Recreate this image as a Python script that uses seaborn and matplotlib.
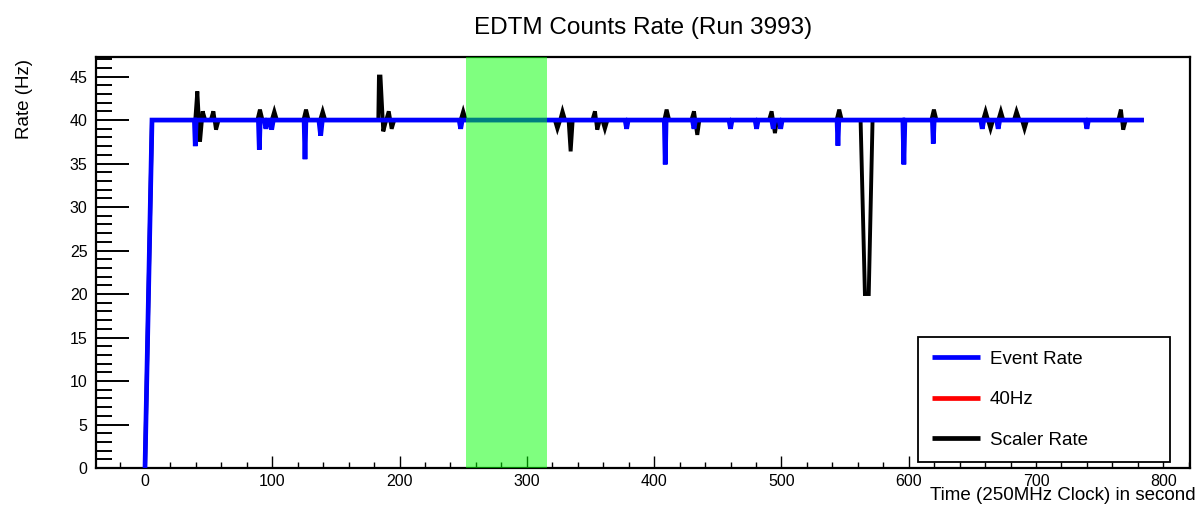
import numpy as np
import pandas as pd
import matplotlib
matplotlib.use("Agg")
import matplotlib.pyplot as plt
from matplotlib.ticker import MultipleLocator
from matplotlib.lines import Line2D
import seaborn as sns

# ---------------- data ----------------
scaler_x = [0, 5.5, 39.5, 41.1, 43.2, 45.3, 47.3, 51.7, 53.7, 55.8, 57.8,
            88.3, 90.3, 92.3, 99.6, 101.6, 103.6, 124.5, 126.5, 128.5,
            137.6, 139.6, 141.6, 183.3, 183.8, 185.0, 187.2, 189.5, 191.5, 193.8, 195.8,
            248, 250, 252, 322, 324, 326.2, 328, 330, 332.8, 334.4, 336,
            351.5, 353.5, 355.3, 357.3, 359.3, 361.3, 363.3,
            408, 409.8, 411.8, 429.3, 431.3, 433.9, 435.5,
            490.3, 492.3, 494.9, 496.5, 543.4, 545.4, 547.4,
            562.2, 565.6, 568.6, 571.6, 617.8, 619.8, 621.8,
            658.4, 660.4, 664.3, 666.3, 670.4, 672.4, 674.4,
            682.7, 684.7, 687.0, 689.0, 691.0, 693.0,
            764.7, 766.7, 768.5, 770.5, 784.8]
scaler_y = [0, 40, 40, 43.3, 37.5, 41.0, 40, 40, 41.0, 38.9, 40,
            40, 41.2, 40, 40, 41.0, 40, 40, 41.2, 40,
            40, 41.0, 40, 40, 45.0, 45.0, 38.7, 40, 41.0, 39.0, 40,
            40, 41.0, 40, 40, 39.0, 40, 41.0, 40, 40, 36.4, 40,
            40, 41.0, 38.9, 40, 40, 39.0, 40,
            40, 41.2, 40, 40, 41.0, 38.3, 40,
            40, 41.0, 38.5, 40, 40, 41.2, 40,
            40, 20.0, 20.0, 40, 40, 41.2, 40,
            40, 41.0, 39.0, 40, 40, 41.0, 40,
            40, 41.0, 40, 40, 39.0, 40,
            40, 41.2, 38.9, 40, 40]

event_x = [0, 5.5, 38.8, 39.5, 40.2, 89.1, 89.8, 90.5, 93.8, 95.0, 96.3,
           98.3, 99.5, 100.8, 125.0, 125.7, 126.4, 136.6, 138.0, 139.3,
           246.8, 248.0, 249.2, 377.2, 378.4, 379.6, 408.0, 408.7, 409.4,
           430.1, 431.3, 432.5, 458.8, 460.0, 461.2, 479.3, 480.5, 481.7,
           492.4, 493.6, 494.8, 498.2, 499.4, 500.6, 543.7, 544.4, 545.1,
           595.4, 596.2, 597.0, 618.6, 619.3, 620.0,
           656.6, 657.8, 659.0, 669.1, 670.3, 671.5, 738.8, 740.0, 741.2, 784.8]
event_y = [0, 40, 40, 37.0, 40, 40, 36.6, 40, 40, 39.0, 40,
           40, 38.9, 40, 40, 35.5, 40, 40, 38.2, 40,
           40, 39.0, 40, 40, 39.0, 40, 40, 34.9, 40,
           40, 39.0, 40, 40, 39.0, 40, 40, 39.0, 40,
           40, 39.0, 40, 40, 39.0, 40, 40, 37.05, 40,
           40, 34.9, 40, 40, 37.3, 40,
           40, 39.0, 40, 40, 39.0, 40, 40, 39.0, 40, 40]

ref_x = [5.5, 784.8]
ref_y = [40, 40]

band = (252, 316)

xticks = [0, 100, 200, 300, 400, 500, 600, 700, 800]
yticks = [0, 5, 10, 15, 20, 25, 30, 35, 40, 45]

title = "EDTM Counts Rate (Run 3993)"
xlabel = "Time (250MHz Clock) in second"
ylabel = "Rate (Hz)"
legend_labels = ["Event Rate", "40Hz", "Scaler Rate"]

# ---------------- plotting ----------------
sns.set_style("ticks")
plt.rcParams['font.family'] = ['Liberation Sans', 'DejaVu Sans']
plt.rcParams['text.color'] = 'black'
plt.rcParams['axes.labelcolor'] = 'black'
plt.rcParams['xtick.color'] = 'black'
plt.rcParams['ytick.color'] = 'black'
plt.rcParams['lines.solid_joinstyle'] = 'miter'
plt.rcParams['lines.solid_capstyle'] = 'butt'

W, H = 1199, 512
fig = plt.figure(figsize=(W / 100, H / 100), dpi=100)
ax = fig.add_axes([96 / W, 1 - 468 / H, (1190 - 96) / W, (468 - 57) / H])

df_s = pd.DataFrame({"x": scaler_x, "y": scaler_y})
df_e = pd.DataFrame({"x": event_x, "y": event_y})
df_r = pd.DataFrame({"x": ref_x, "y": ref_y})

sns.lineplot(data=df_s, x="x", y="y", ax=ax, estimator=None, sort=False,
             color="black", lw=2.8, zorder=2, label="_s")
sns.lineplot(data=df_r, x="x", y="y", ax=ax, estimator=None, sort=False,
             color="red", lw=2.8, zorder=3, label="_r")
sns.lineplot(data=df_e, x="x", y="y", ax=ax, estimator=None, sort=False,
             color="blue", lw=3.4, zorder=4, label="_e")
for ln in ax.get_lines():
    ln.set_solid_joinstyle('miter')

ax.axvspan(band[0], band[1], color=(0, 1, 0), alpha=0.5, lw=0, zorder=5)

ax.set_xlim(-38.5, 821)
ax.set_ylim(0, 47.25)
ax.set_xticks(xticks)
ax.set_yticks(yticks)
ax.xaxis.set_minor_locator(MultipleLocator(20))
ax.yaxis.set_minor_locator(MultipleLocator(1))
ax.tick_params(axis='y', which='major', direction='in', length=24, width=1.4,
               labelsize=11.5, pad=6, colors='black')
ax.tick_params(axis='y', which='minor', direction='in', length=11.5, width=1.4, colors='black')
ax.tick_params(axis='x', which='major', direction='in', length=8.6, width=1.0,
               labelsize=11.5, pad=4, colors='black')
ax.tick_params(axis='x', which='minor', direction='in', length=4.3, width=1.0, colors='black')
ax.tick_params(top=False, right=False)
for sp in ax.spines.values():
    sp.set_visible(True)
    sp.set_linewidth(1.6)
    sp.set_color("black")
ax.set_xlabel("")
ax.set_ylabel("")

fig.text((96 + 1190) / 2 / W, 1 - 28 / H, title, ha="center", va="center",
         fontsize=17.5, color="black")
fig.text(1196 / W, 1 - 496 / H, xlabel, ha="right", va="center", fontsize=13.5, color="black")
fig.text(25 / W, 1 - 59 / H, ylabel, ha="center", va="top", rotation=90,
         fontsize=13.5, color="black")

handles = [Line2D([], [], color="blue", lw=3.4),
           Line2D([], [], color="red", lw=3.4),
           Line2D([], [], color="black", lw=3.4)]
ax_w, ax_h = 1190 - 96, 468 - 57
x0 = (918 - 96) / ax_w
y1 = (468 - 337) / ax_h
y0 = (468 - 458) / ax_h
leg = ax.legend(handles, legend_labels, loc="upper left",
                bbox_to_anchor=(x0, y0, (1170 - 918) / ax_w, y1 - y0),
                mode="expand", borderaxespad=0, fontsize=13.5,
                labelspacing=1.25, handlelength=2.6, handletextpad=0.5,
                borderpad=0.72, fancybox=False, framealpha=1, edgecolor="black")
leg.get_frame().set_linewidth(1.3)
for t in leg.get_texts():
    t.set_color("black")
leg.set_zorder(10)

fig.savefig("out.png", dpi=100)
